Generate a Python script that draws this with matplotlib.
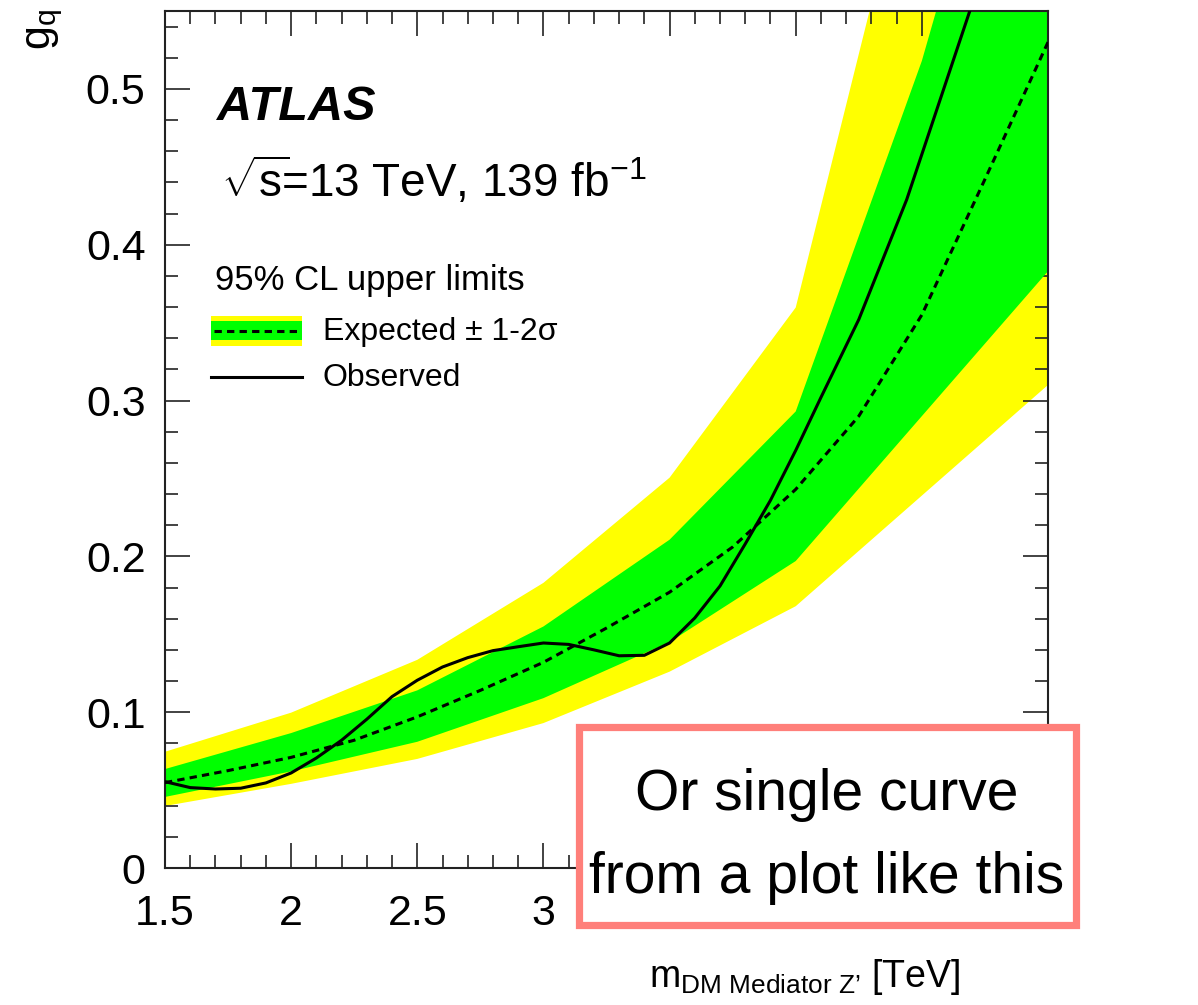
import matplotlib
matplotlib.use("Agg")
import matplotlib.pyplot as plt
from matplotlib.patches import Rectangle
from matplotlib.lines import Line2D
from matplotlib.ticker import MultipleLocator, FixedLocator

plt.rcParams['font.family'] = ['Liberation Sans', 'DejaVu Sans']
plt.rcParams['mathtext.fontset'] = 'custom'
plt.rcParams['mathtext.rm'] = 'Liberation Sans'
plt.rcParams['mathtext.it'] = 'Liberation Sans:italic'
plt.rcParams['mathtext.bf'] = 'Liberation Sans:bold'

# ---- data ----
band_mass = [1.5, 2.0, 2.5, 3.0, 3.5, 4.0, 4.5, 5.0]
exp_plus2 = [0.0746, 0.0997, 0.1336, 0.183, 0.2505, 0.3597, 0.685, 1.00]
exp_plus1 = [0.0635, 0.0866, 0.114, 0.155, 0.2107, 0.293, 0.518, 0.80]
exp_minus1 = [0.0456, 0.062, 0.081, 0.109, 0.145, 0.197, 0.290, 0.383]
exp_minus2 = [0.0398, 0.054, 0.070, 0.093, 0.126, 0.168, 0.239, 0.310]

exp_mass = [1.5, 1.75, 2.0, 2.25, 2.5, 2.75, 3.0, 3.25, 3.5, 3.75, 4.0, 4.25, 4.5, 4.75, 5.0]
exp_gq = [0.0548, 0.0625, 0.071, 0.082, 0.097, 0.114, 0.132, 0.154, 0.177, 0.206, 0.243, 0.29, 0.355, 0.442, 0.530]

obs_mass = [1.5, 1.6, 1.7, 1.8, 1.9, 2.0, 2.1, 2.2, 2.3, 2.4, 2.5, 2.6, 2.7, 2.8, 2.9, 3.0,
            3.1, 3.2, 3.3, 3.4, 3.5, 3.6, 3.7, 3.8, 3.9, 4.0, 4.1, 4.25, 4.44, 4.69, 4.75]
obs_gq = [0.0554, 0.0516, 0.0507, 0.0512, 0.0546, 0.061, 0.0706, 0.082, 0.0955, 0.110, 0.1205,
          0.129, 0.135, 0.1395, 0.142, 0.1444, 0.1435, 0.140, 0.1362, 0.1365, 0.1444, 0.1605,
          0.181, 0.208, 0.236, 0.268, 0.302, 0.352, 0.429, 0.55, 0.575]

x_ticks = [1.5, 2, 2.5, 3, 3.5, 4, 4.5, 5]
x_tick_labels = ['1.5', '2', '2.5', '3', '3.5', '4', '4.5', '5']
y_ticks = [0, 0.1, 0.2, 0.3, 0.4, 0.5]
y_tick_labels = ['0', '0.1', '0.2', '0.3', '0.4', '0.5']

W, H = 1198, 1005
fig = plt.figure(figsize=(W / 100, H / 100), dpi=100)
L, R, T, B = 165, 1048, 11, 868
ax = fig.add_axes([L / W, 1 - B / H, (R - L) / W, (B - T) / H])

YEL = '#FFFF00'
GRN = '#00FF00'
LW = 2.2
DASH = (2.4, 1.7)
ax.fill_between(band_mass, exp_minus2, exp_plus2, color=YEL, lw=0, zorder=1)
ax.fill_between(band_mass, exp_minus1, exp_plus1, color=GRN, lw=0, zorder=2)
ax.plot(exp_mass, exp_gq, color='black', lw=LW, dashes=DASH, zorder=3)
ax.plot(obs_mass, obs_gq, color='black', lw=LW, zorder=4)

ax.set_xlim(1.5, 5.0)
ax.set_ylim(0, 0.55)
ax.xaxis.set_major_locator(FixedLocator(x_ticks))
ax.set_xticklabels(x_tick_labels)
ax.xaxis.set_minor_locator(MultipleLocator(0.1))
ax.yaxis.set_major_locator(FixedLocator(y_ticks))
ax.set_yticklabels(y_tick_labels)
ax.yaxis.set_minor_locator(MultipleLocator(0.02))
ax.tick_params(which='both', direction='in', top=True, right=True, width=1.2, colors='#222222')
ax.tick_params(which='major', length=18, labelsize=31, labelcolor='black')
ax.tick_params(axis='x', which='major', pad=19)
ax.tick_params(axis='y', which='major', pad=14)
ax.tick_params(which='minor', length=9.5)
for s in ax.spines.values():
    s.set_linewidth(1.5)
    s.set_color('#222222')

def axp(px, py):
    return ((px - L) / (R - L), (B - py) / (B - T))

# texts
x0, y0 = axp(217, 120)
ax.text(x0, y0, 'ATLAS', transform=ax.transAxes, fontsize=35, fontweight='bold',
        fontstyle='italic', va='baseline', ha='left')
x0, y0 = axp(221, 197)
ax.text(x0, y0, r'$\mathregular{\sqrt{s}\!}$=13 TeV, 139 fb$^{\mathregular{-1}}$',
        transform=ax.transAxes, fontsize=33, va='baseline', ha='left')
x0, y0 = axp(215, 290)
ax.text(x0, y0, '95% CL upper limits', transform=ax.transAxes, fontsize=25, va='baseline', ha='left')

# legend
lx0, ly_top = axp(211, 315.7)
lx1, ly_bot = axp(302, 345.7)
ax.add_patch(Rectangle((lx0, ly_bot), lx1 - lx0, ly_top - ly_bot, transform=ax.transAxes,
                       facecolor=YEL, lw=0, zorder=5))
_, g_top = axp(0, 321)
_, g_bot = axp(0, 340)
ax.add_patch(Rectangle((lx0, g_bot), lx1 - lx0, g_top - g_bot, transform=ax.transAxes,
                       facecolor=GRN, lw=0, zorder=6))
_, ly = axp(0, 331)
ax.add_line(Line2D([lx0 + 0.003, lx1 - 0.003], [ly, ly], transform=ax.transAxes, color='black',
                   lw=LW, dashes=DASH, zorder=7))
_, ly2 = axp(0, 377)
ax.add_line(Line2D([lx0, lx1], [ly2, ly2], transform=ax.transAxes, color='black', lw=LW, zorder=7))
tx, ty = axp(323, 340)
ax.text(tx, ty, 'Expected \u00b1 1-2\u03c3', transform=ax.transAxes, fontsize=23, va='baseline', ha='left')
tx, ty = axp(323, 386.5)
ax.text(tx, ty, 'Observed', transform=ax.transAxes, fontsize=23, va='baseline', ha='left')

# axis labels
fig.text(45 / W, 1 - 9 / H, r'$\mathregular{g_q}$', rotation=90, ha='center', va='top', fontsize=31)
fig.text(960 / W, 1 - 987 / H, r'$\mathregular{m_{DM\ Mediator\ Z’}}$ [TeV]', ha='right',
         va='baseline', fontsize=27)

# overlay annotation box
bx0, bx1, by0, by1 = 578.5, 1075.5, 726.5, 924.5
fig.add_artist(Rectangle((bx0 / W, 1 - by1 / H), (bx1 - bx0) / W, (by1 - by0) / H,
                         transform=fig.transFigure, facecolor='white', edgecolor='#FF7F7A',
                         lw=5.2, zorder=10))
box_font = ['Liberation Sans', 'DejaVu Sans']
fig.text(827 / W, 1 - 810 / H, 'Or single curve', ha='center', va='baseline', fontsize=41,
         family=box_font, zorder=11)
fig.text(827 / W, 1 - 893 / H, 'from a plot like this', ha='center', va='baseline', fontsize=41,
         family=box_font, zorder=11)

fig.savefig('out.png', dpi=100)
